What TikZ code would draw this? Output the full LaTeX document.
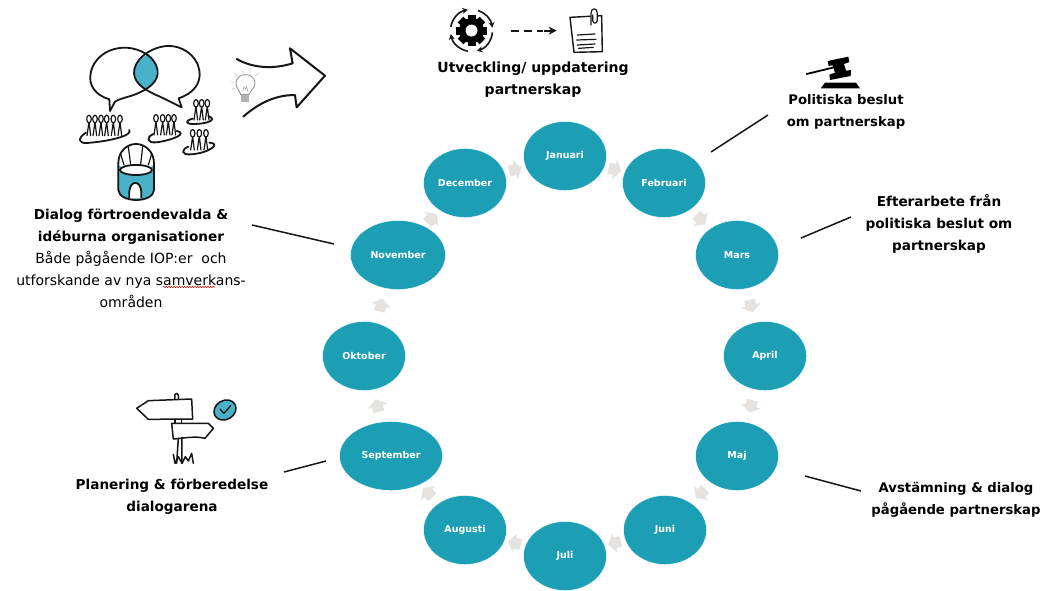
\documentclass[tikz,border=0pt]{standalone}
\usepackage{fontspec}
\setmainfont{DejaVu Sans}
\usetikzlibrary{shapes.geometric,calc,decorations.pathmorphing,arrows.meta}
\definecolor{tealm}{HTML}{1C9FB5}
\definecolor{tealic}{HTML}{49B2C8}
\definecolor{arrowg}{HTML}{E6E2DF}
\definecolor{inkk}{HTML}{161616}
\tikzset{
  monthnode/.style={ellipse,fill=tealm,draw=white,line width=.4pt,inner sep=0pt,minimum width=83pt,minimum height=69pt,text=white,font=\fontsize{9.5}{11}\selectfont\bfseries},
  lead/.style={draw=inkk,line width=1.5pt},
  label/.style={align=center,inner sep=0pt,text=black,font=\fontsize{13.6}{22}\selectfont\bfseries},
  ink/.style={draw=inkk,line width=1.8pt,line cap=round,line join=round},
  thin ink/.style={draw=inkk,line width=1.2pt,line cap=round,line join=round},
}
\newcommand{\personfig}[2]{%
  \draw[thin ink] (#1,#2+9) -- (#1-6,#2+50) (#1,#2+9) -- (#1+5,#2+50);
  \draw[thin ink,fill=white] (#1,#2) ellipse (2.3pt and 3.8pt);
}
\newcommand{\flowarrow}[4]{%
  \coordinate (#1) at ($(#2)!.5!(#3)$);
  \fill[arrowg,shift={(#1)},rotate=#4] (-6,-5.5) -- (0,-5.5) -- (0,-10) -- (7,0) -- (0,10) -- (0,5.5) -- (-6,5.5) -- cycle;
}
\begin{document}
\begin{tikzpicture}[x=1pt,y=-1pt]
\useasboundingbox (0,0) rectangle (1054,590);
\fill[white] (0,0) rectangle (1054,590);
% months
\node[monthnode] (jan) at (565,156) {Januari};
\node[monthnode] (feb) at (664,183) {Februari};
\node[monthnode] (mar) at (737,255) {Mars};
\node[monthnode] (apr) at (765,356) {April};
\node[monthnode] (maj) at (737,456) {Maj};
\node[monthnode] (jun) at (665,530) {Juni};
\node[monthnode] (jul) at (565,556) {Juli};
\node[monthnode] (aug) at (465,530) {Augusti};
\node[monthnode,minimum width=103pt] (sep) at (391,456) {September};
\node[monthnode] (okt) at (364,356) {Oktober};
\node[monthnode,minimum width=95pt] (nov) at (398,255) {November};
\node[monthnode] (dec) at (465,183) {December};
% flow arrows
\flowarrow{a1}{jan}{feb}{-15}
\flowarrow{a2}{feb}{mar}{-45}
\flowarrow{a3}{mar}{apr}{-75}
\flowarrow{a4}{apr}{maj}{-105}
\flowarrow{a5}{maj}{jun}{-135}
\flowarrow{a6}{jun}{jul}{-165}
\flowarrow{a7}{jul}{aug}{165}
\flowarrow{a8}{aug}{sep}{135}
\flowarrow{a9}{sep}{okt}{105}
\flowarrow{a10}{okt}{nov}{75}
\flowarrow{a11}{nov}{dec}{45}
\flowarrow{a12}{dec}{jan}{15}
% labels
\node[label,font=\fontsize{14}{22}\selectfont\bfseries] (utv) at (533,79.5) {Utveckling/ uppdatering\\partnerskap};
\node[label,font=\fontsize{13.2}{22}\selectfont\bfseries] (pol) at (846,112) {Politiska beslut\\om partnerskap};
\node[label] (eft) at (939,223.5) {Efterarbete från\\politiska beslut om\\partnerskap};
\node[label,font=\fontsize{13.2}{22}\selectfont\bfseries] (avs) at (956,499.5) {Avstämning \& dialog\\pågående partnerskap};
\node[label] (pla) at (172,496.5) {Planering \& förberedelse\\dialogarena};
\node[label] (dia) at (131,227) {Dialog förtroendevalda \&\\idéburna organisationer};
\node[label,font=\fontsize{14}{22}\selectfont] (bad) at (131,279.5) {Både pågående IOP:er\ \ och\\utforskande av nya samverkans-\\områden};
\draw[red!80!black,line width=.5pt,decorate,decoration={snake,amplitude=.7pt,segment length=2.6pt}] (163,287) -- (215,287);
% leader lines
\coordinate (l1a) at (711,152); \coordinate (l1b) at (768,115);
\coordinate (l2a) at (801,238); \coordinate (l2b) at (851,217);
\coordinate (l3a) at (805,476); \coordinate (l3b) at (861,491);
\coordinate (l4a) at (284,472); \coordinate (l4b) at (326,461);
\coordinate (l5a) at (252,225); \coordinate (l5b) at (334,244);
\draw[lead] (l1a) -- (l1b);
\draw[lead] (l2a) -- (l2b);
\draw[lead] (l3a) -- (l3b);
\draw[lead] (l4a) -- (l4b);
\draw[lead] (l5a) -- (l5b);
% dialogue icon (coordinates from a 3x crop)
\begin{scope}[shift={(0,30)},x=.3333pt,y=-.3333pt]
  \begin{scope}
    \clip (445,72) .. controls (480,95) and (480,150) .. (437,180) .. controls (395,160) and (385,105) .. (445,72) -- cycle;
    \fill[tealic] (380,60) rectangle (490,190);
  \end{scope}
  \draw[ink] (330,243) -- (328,208) .. controls (285,195) and (265,165) .. (272,130) .. controls (282,75) and (340,45) .. (395,55) .. controls (440,63) and (475,95) .. (473,130) .. controls (470,165) and (430,185) .. (395,197) .. controls (375,203) and (355,208) .. (345,215) -- cycle;
  \draw[ink] (545,232) -- (536,205) .. controls (580,190) and (605,160) .. (598,120) .. controls (590,75) and (545,45) .. (500,48) .. controls (450,52) and (400,90) .. (402,130) .. controls (404,165) and (445,185) .. (480,200) .. controls (505,212) and (530,225) .. (545,232) -- cycle;
  % groups
  \foreach \px in {267,285,303,320,340,360} {\personfig{\px}{267}}
  \draw[ink] (388,300) .. controls (400,318) and (320,335) .. (260,339) .. controls (235,340) and (232,325) .. (258,308);
  \foreach \px in {468,488,505,522} {\personfig{\px}{265}}
  \draw[ink] (530,303) .. controls (565,310) and (520,330) .. (470,337) .. controls (440,340) and (438,322) .. (460,312);
  \foreach \px in {588,605,622} {\personfig{\px}{220}}
  \draw[ink] (625,258) .. controls (655,270) and (620,282) .. (580,282) .. controls (555,282) and (555,272) .. (578,266);
  \foreach \px in {578,598,618} {\personfig{\px}{310}}
  \draw[ink] (628,338) .. controls (665,340) and (630,368) .. (575,373) .. controls (540,376) and (545,358) .. (565,350);
  % tower
  \fill[tealic] (357,405) -- (357,480) .. controls (360,520) and (458,520) .. (460,480) -- (460,405) .. controls (440,435) and (380,435) .. (357,405) -- cycle;
  \fill[white] (388,505) -- (388,485) .. controls (390,450) and (422,450) .. (424,485) -- (424,505) -- cycle;
  \draw[ink] (388,503) -- (388,485) .. controls (390,450) and (422,450) .. (424,485) -- (424,503);
  \draw[ink] (355,400) -- (355,480) .. controls (358,520) and (460,520) .. (462,480) -- (462,400);
  \draw[ink] (355,400) .. controls (355,365) and (380,342) .. (408,342) .. controls (436,342) and (462,365) .. (462,400);
  \draw[ink,fill=white] (408,420) ellipse (16pt and 5pt);
  \draw[thin ink] (372,405) -- (362,372) (392,403) -- (385,350) (422,403) -- (428,350) (445,405) -- (455,372);
  % big arrow
  \draw[ink,line width=2pt] (710,87) .. controls (760,115) and (820,118) .. (878,100) -- (870,55) -- (975,137) -- (890,232) -- (885,195) .. controls (820,195) and (770,225) .. (730,260);
  % bulb
  \draw[gray!80,line width=.9pt,fill=white] (722,193) .. controls (718,180) and (708,175) .. (708,160) .. controls (708,125) and (765,125) .. (765,160) .. controls (765,175) and (752,180) .. (748,193) -- cycle;
  \fill[gray!60] (722,195) rectangle (748,216);
  \draw[gray!70,line width=.6pt] (728,185) -- (732,170) -- (736,178) -- (740,170) -- (744,185);
  \draw[gray!35,line width=.7pt] (693,155) -- (703,157) (695,178) -- (705,175) (703,128) -- (712,138) (725,118) -- (730,130) (752,115) -- (749,128) (778,128) -- (767,137);
\end{scope}
% gear icon
\begin{scope}[shift={(471.5,30.5)}]
  \foreach \ang in {0,45,...,315} {\fill[black,rotate=\ang] (-4,9) rectangle (4,15.5);}
  \fill[black] (0,0) circle (12.5pt);
  \fill[white] (0,0) circle (6pt);
  \draw[inkk,line width=1.6pt,-{Stealth[length=5.5pt,width=6pt]}] (72:21pt) arc (72:8:21pt);
  \draw[inkk,line width=1.6pt,-{Stealth[length=5.5pt,width=6pt]}] (-5:21pt) arc (-5:-75:21pt);
  \draw[inkk,line width=1.6pt,-{Stealth[length=5.5pt,width=6pt]}] (-100:21pt) arc (-100:-170:21pt);
  \draw[inkk,line width=1.6pt,-{Stealth[length=5.5pt,width=6pt]}] (170:21pt) arc (170:100:21pt);
\end{scope}
% dashed arrow + note
\begin{scope}[shift={(420,0)},x=.3333pt,y=-.3333pt]
  \coordinate (da) at (272,92); \coordinate (db) at (410,92);
  \draw[inkk,line width=1.8pt,dash pattern=on 8pt off 5pt] (da) -- (370,92);
  \draw[inkk,line width=1.8pt,-{Stealth[length=8pt,width=8pt]}] (372,92) -- (db);
  \draw[ink,line width=1.4pt] (450,52) -- (545,47) -- (547,155) -- (462,157) -- cycle;
  \draw[thin ink] (472,105) -- (525,102) (470,120) -- (528,118) (472,135) -- (525,132) (476,145) -- (520,142);
  \draw[thin ink,fill=white] (513,75) -- (513,40) .. controls (513,22) and (532,22) .. (532,40) -- (532,62) .. controls (530,72) and (520,72) .. (518,62) -- (518,45);
\end{scope}
% gavel
\begin{scope}[shift={(780,50)},x=.3333pt,y=-.3333pt]
  \draw[black,line width=1.8pt,line cap=round] (80,72) -- (170,50);
  \fill[black] (143,33) -- (205,20) -- (208,36) -- (192,42) -- (198,62) -- (213,60) -- (212,78) -- (150,90) -- (148,74) -- (165,68) -- (158,46) -- (146,48) -- cycle;
  \fill[black] (135,98) -- (228,98) -- (240,115) -- (122,115) -- cycle;
\end{scope}
% signpost
\begin{scope}[shift={(120,385)},x=.3333pt,y=-.3333pt]
  \draw[ink,line width=1.5pt] (50,70) -- (85,47) -- (215,42) -- (218,102) -- (85,103) -- cycle;
  \draw[ink,line width=1.5pt] (165,42) -- (165,28) .. controls (168,24) and (174,24) .. (175,30) -- (175,43);
  \draw[ink,line width=1.5pt] (155,115) -- (265,115) -- (280,130) -- (255,160) .. controls (225,152) and (190,160) .. (160,162) -- cycle;
  \draw[ink,line width=1.5pt] (165,103) -- (165,115) (185,103) -- (185,114);
  \draw[ink,line width=1.5pt] (175,160) -- (170,235) (186,157) -- (186,235);
  \draw[ink,line width=1.5pt] (160,208) -- (165,235) -- (175,215) -- (186,235) -- (196,215) -- (205,228) -- (215,205) -- (220,235);
  \draw[ink,line width=1.5pt,fill=tealic,rotate around={30:(315,75)}] (315,75) ellipse (11.5pt and 9.5pt);
  \draw[ink,line width=1.3pt] (300,72) -- (312,85) -- (332,62);
\end{scope}
\end{tikzpicture}
\end{document}
